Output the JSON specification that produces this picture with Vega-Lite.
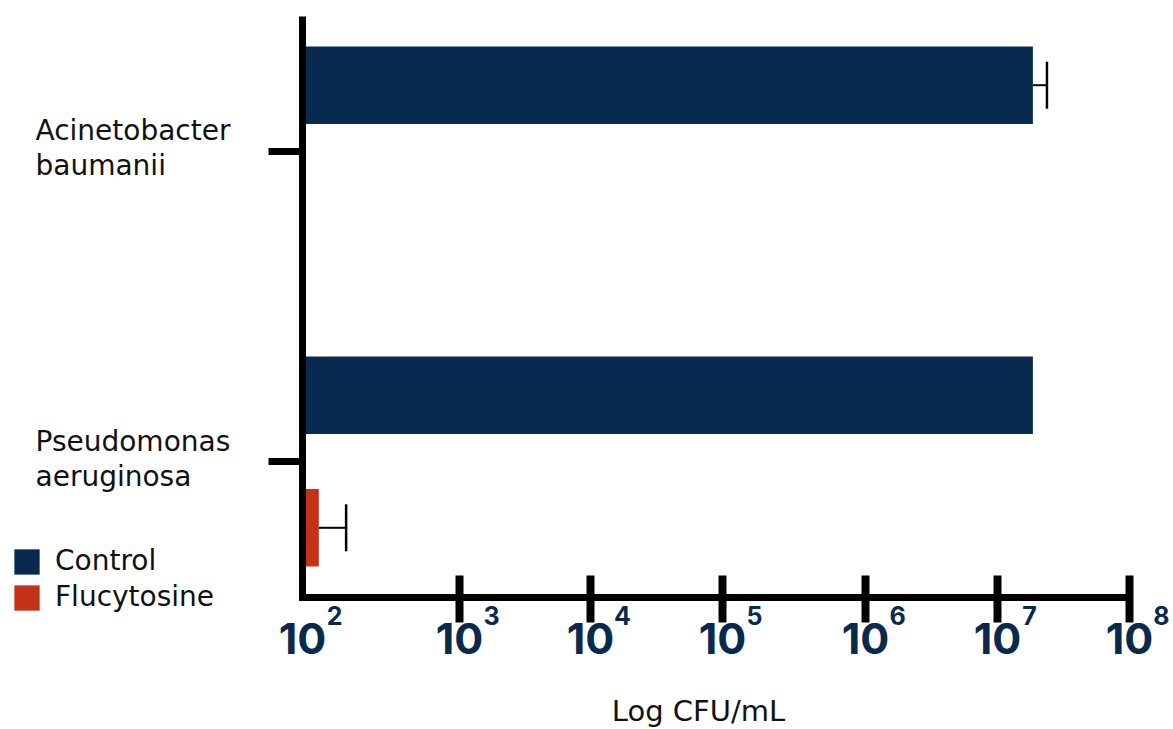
{
  "$schema": "https://vega.github.io/schema/vega-lite/v6.json",
  "width": 827,
  "height": 581,
  "autosize": {"type": "none"},
  "padding": {"left": 302, "top": 16, "right": 44, "bottom": 132},
  "background": "white",
  "config": {"view": {"stroke": null}, "font": "DejaVu Sans"},
  "data": {
    "values": [
      {"organism": "Acinetobacter baumanii", "treatment": "Control", "cfu": 18700000, "hi": 23900000},
      {"organism": "Pseudomonas aeruginosa", "treatment": "Control", "cfu": 18700000, "hi": null},
      {"organism": "Pseudomonas aeruginosa", "treatment": "Flucytosine", "cfu": 128, "hi": 191}
    ]
  },
  "encoding": {
    "y": {
      "field": "organism",
      "type": "nominal",
      "sort": ["Acinetobacter baumanii", "Pseudomonas aeruginosa"],
      "scale": {"paddingInner": 0.2, "paddingOuter": 0.037, "align": 0.5},
      "axis": {
        "title": null,
        "domainColor": "#000",
        "domainWidth": 7,
        "tickColor": "#000",
        "tickWidth": 7,
        "tickSize": 34,
        "labelAlign": "left",
        "labelBaseline": "middle",
        "labelPadding": 233,
        "labelOffset": -19,
        "labelExpr": "split(datum.label, ' ')",
        "labelLineHeight": 35,
        "labelFont": "DejaVu Sans",
        "labelFontSize": 28,
        "labelColor": "#111111",
        "labelLimit": 0,
        "zindex": 1
      }
    },
    "yOffset": {
      "field": "treatment",
      "type": "nominal",
      "scale": {"domain": ["Control", "Flucytosine"], "paddingInner": 0.415, "paddingOuter": 0.143}
    }
  },
  "layer": [
    {
      "mark": {"type": "bar"},
      "encoding": {
        "x": {
          "field": "cfu",
          "type": "quantitative",
          "scale": {
            "type": "log",
            "domain": [100, 1000, 10000, 100000, 1000000, 10000000, 100000000],
            "range": [0, 157, 288, 420, 563, 695, 827],
            "nice": false,
            "zero": false
          },
          "axis": {
            "orient": "bottom",
            "values": [100, 1000, 10000, 100000, 1000000, 10000000, 100000000],
            "grid": false,
            "domainColor": "#000",
            "domainWidth": 7,
            "domainCap": "square",
            "tickColor": "#000",
            "tickWidth": 8,
            "tickSize": 25,
            "tickOpacity": {"condition": {"test": "datum.value <= 100", "value": 0}, "value": 1},
            "labelExpr": "'10'",
            "labelFont": "Inter",
            "labelFontWeight": "bold",
            "labelFontSize": 43,
            "labelColor": "#0A2A4D",
            "labelPadding": -3,
            "labelFlush": false,
            "labelOverlap": false,
            "labelBound": false,
            "title": "Log CFU/mL",
            "titleFont": "DejaVu Sans",
            "titleFontSize": 29,
            "titleFontWeight": "normal",
            "titleColor": "#111111",
            "titleX": 396,
            "titleY": 123,
            "titleAlign": "center",
            "titleBaseline": "alphabetic",
            "zindex": 1
          }
        },
        "x2": {"datum": 100},
        "color": {
          "field": "treatment",
          "type": "nominal",
          "scale": {"domain": ["Control", "Flucytosine"], "range": ["#072A4E", "#C4321A"]},
          "legend": {
            "title": null,
            "orient": "none",
            "legendX": -289,
            "legendY": 532,
            "padding": 0,
            "symbolType": "square",
            "symbolSize": 640,
            "symbolStrokeWidth": 0,
            "symbolOpacity": 1,
            "labelFont": "DejaVu Sans",
            "labelFontSize": 28,
            "labelColor": "#111111",
            "labelOffset": 14,
            "rowPadding": 8
          }
        }
      }
    },
    {
      "transform": [{"filter": "datum.hi != null"}],
      "mark": {"type": "rule", "color": "#000000", "strokeWidth": 2, "opacity": 1},
      "encoding": {
        "x": {
          "field": "cfu",
          "type": "quantitative",
          "axis": {
            "orient": "bottom",
            "values": [100, 1000, 10000, 100000, 1000000, 10000000, 100000000],
            "grid": false,
            "domain": false,
            "tickColor": "#000",
            "tickWidth": 8,
            "tickSize": -22,
            "tickOpacity": {"condition": {"test": "datum.value <= 100", "value": 0}, "value": 1},
            "labelExpr": "'' + round(log(datum.value) / LN10)",
            "labelFont": "Inter",
            "labelFontWeight": "bold",
            "labelFontSize": 25,
            "labelColor": "#0A2A4D",
            "labelOffset": 32,
            "labelPadding": 29,
            "labelFlush": false,
            "labelOverlap": false,
            "labelBound": false,
            "title": null,
            "zindex": 1
          }
        },
        "x2": {"field": "hi"}
      }
    },
    {
      "transform": [{"filter": "datum.hi != null"}],
      "mark": {"type": "tick", "orient": "vertical", "color": "#000000", "opacity": 1, "size": 47, "thickness": 2.5},
      "encoding": {
        "x": {"field": "hi", "type": "quantitative", "axis": null}
      }
    }
  ],
  "resolve": {"axis": {"x": "independent"}}
}
